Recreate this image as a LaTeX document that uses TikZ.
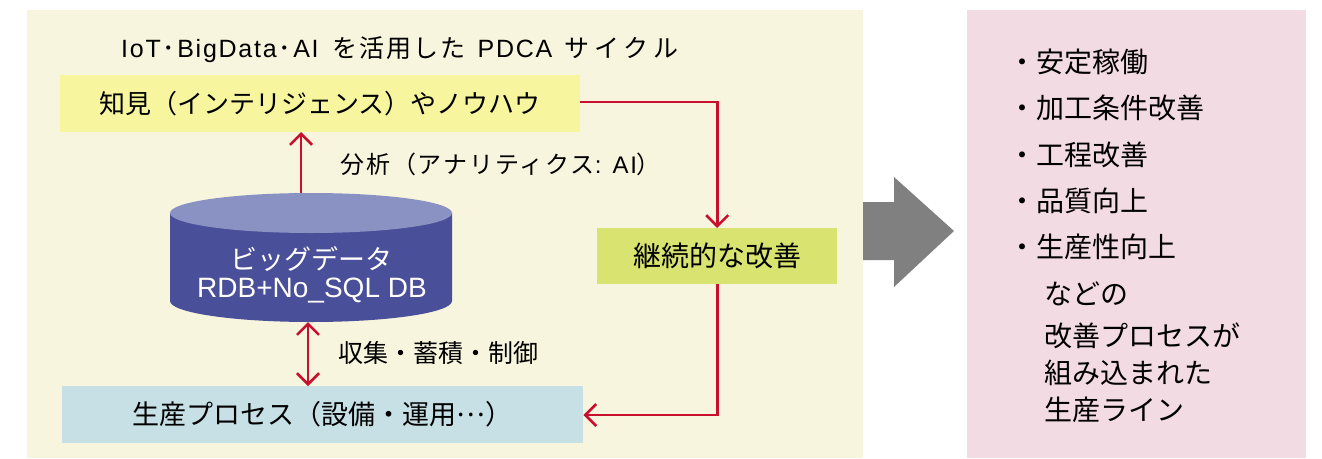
\documentclass[tikz,border=0pt]{standalone}
\usepackage{fontspec}
\setmainfont{Noto Sans CJK JP}
\newfontfamily\lat{Liberation Sans}
\newfontfamily\latls[LetterSpace=7]{Liberation Sans}
\newfontfamily\cjkls[LetterSpace=8]{Noto Sans CJK JP}
\newfontfamily\cjkwide[LetterSpace=20]{Noto Sans CJK JP}
\newcommand{\hdot}{\hspace{2pt}･\hspace{2pt}}
\usetikzlibrary{arrows.meta}
\definecolor{cream}{HTML}{F7F5DD}
\definecolor{ylw}{HTML}{F8F59F}
\definecolor{grn}{HTML}{D8E46F}
\definecolor{blu}{HTML}{C6E0E5}
\definecolor{pnk}{HTML}{F3DBE3}
\definecolor{cylbody}{HTML}{4A4F99}
\definecolor{cyltop}{HTML}{8A92C4}
\definecolor{redl}{HTML}{C8102E}
\definecolor{grayarr}{HTML}{808080}
\begin{document}
\begin{tikzpicture}[x=1pt,y=-1pt,
  box/.style={draw=none,inner sep=0pt,anchor=north west},
  txt/.style={inner sep=0pt},
  lbl/.style={inner sep=0pt,anchor=west,font=\fontsize{24}{28}\selectfont},
  rtxt/.style={inner sep=0pt,anchor=west,font=\fontsize{28}{32}\selectfont},
  link/.style={draw=redl,line width=2.6pt,-{Straight Barb[length=11pt,width=22pt,line width=2.6pt]}},
  dlink/.style={draw=redl,line width=2.6pt,{Straight Barb[length=11pt,width=22pt,line width=2.6pt]}-{Straight Barb[length=11pt,width=22pt,line width=2.6pt]}}
]
\useasboundingbox (0,0) rectangle (1322,458);
% panels
\fill[cream] (27,10) rectangle (863,458);
\fill[pnk] (967,10) rectangle (1306,458);

% title
\node[lbl,font=\fontsize{25}{30}\selectfont] (title) at (121,50)
  {{\latls IoT}\hdot{\latls BigData}\hdot{\latls AI}\hspace{14pt}{\cjkls を活用した}\hspace{12pt}{\latls PDCA}\hspace{12pt}{\cjkwide サイクル}};

% boxes
\node[box,fill=ylw,minimum width=520pt,minimum height=57pt] (kb) at (60,75) {};
\node[txt,font=\fontsize{26}{30}\selectfont] (kbt) at (kb.center) {知見（インテリジェンス）やノウハウ};
\node[box,fill=grn,minimum width=240pt,minimum height=56pt] (kz) at (597,228) {};
\node[txt,font=\fontsize{28}{32}\selectfont] (kzt) at (kz.center) {継続的な改善};
\node[box,fill=blu,minimum width=521pt,minimum height=57pt] (pp) at (62,386) {};
\node[txt,font=\fontsize{27}{30}\selectfont] (ppt) at (pp.center) {生産プロセス（設備・運用\raisebox{0.33em}{…}）};

% cylinder
\fill[cylbody] (170,213) -- (170,301) arc[start angle=180,end angle=360,x radius=141pt,y radius=21pt] -- (452,213) -- cycle;
\fill[cyltop] (311,213) ellipse [x radius=141pt,y radius=20pt];
\node[inner sep=0pt,minimum width=282pt,minimum height=129pt] (db) at (311,257.5) {};
\node[txt,text=white,font=\fontsize{27}{30}\selectfont] (db1) at (311,259) {ビッグデータ};
\node[txt,text=white,font=\fontsize{28}{30}\selectfont\lat] (db2) at (312,291) {RDB+No\_SQL DB};

% connectors
\coordinate (upS) at (301,193);
\coordinate (upE) at (301,132);
\draw[link] (upS) -- (upE);
\coordinate (dnS) at (308,322);
\coordinate (dnE) at (308,386);
\draw[dlink] (dnS) -- (dnE);
\node[lbl] (ana) at (340,164) {{\cjkls 分析（アナリティクス}{\latls : AI}）};
\node[lbl,font=\fontsize{25}{28}\selectfont] (col) at (338,353) {収集・蓄積・制御};

\draw[link] (kb.east |- 0,102) -| (kz.north);
\draw[link] (kz.south) |- (pp.east |- 0,415);

% gray arrow
\fill[grayarr] (863,202) -- (894,202) -- (894,177) -- (954,231) -- (894,287) -- (894,260) -- (863,260) -- cycle;

% right list
\node[rtxt] (r1) at (1008,62) {・安定稼働};
\node[rtxt] (r2) at (1008,108) {・加工条件改善};
\node[rtxt] (r3) at (1008,155) {・工程改善};
\node[rtxt] (r4) at (1008,201) {・品質向上};
\node[rtxt] (r5) at (1008,247) {・生産性向上};
\node[rtxt] (r6) at (1044,294) {などの};
\node[rtxt] (r7) at (1044,336) {改善プロセスが};
\node[rtxt] (r8) at (1044,373) {組み込まれた};
\node[rtxt] (r9) at (1044,410) {生産ライン};
\end{tikzpicture}
\end{document}
